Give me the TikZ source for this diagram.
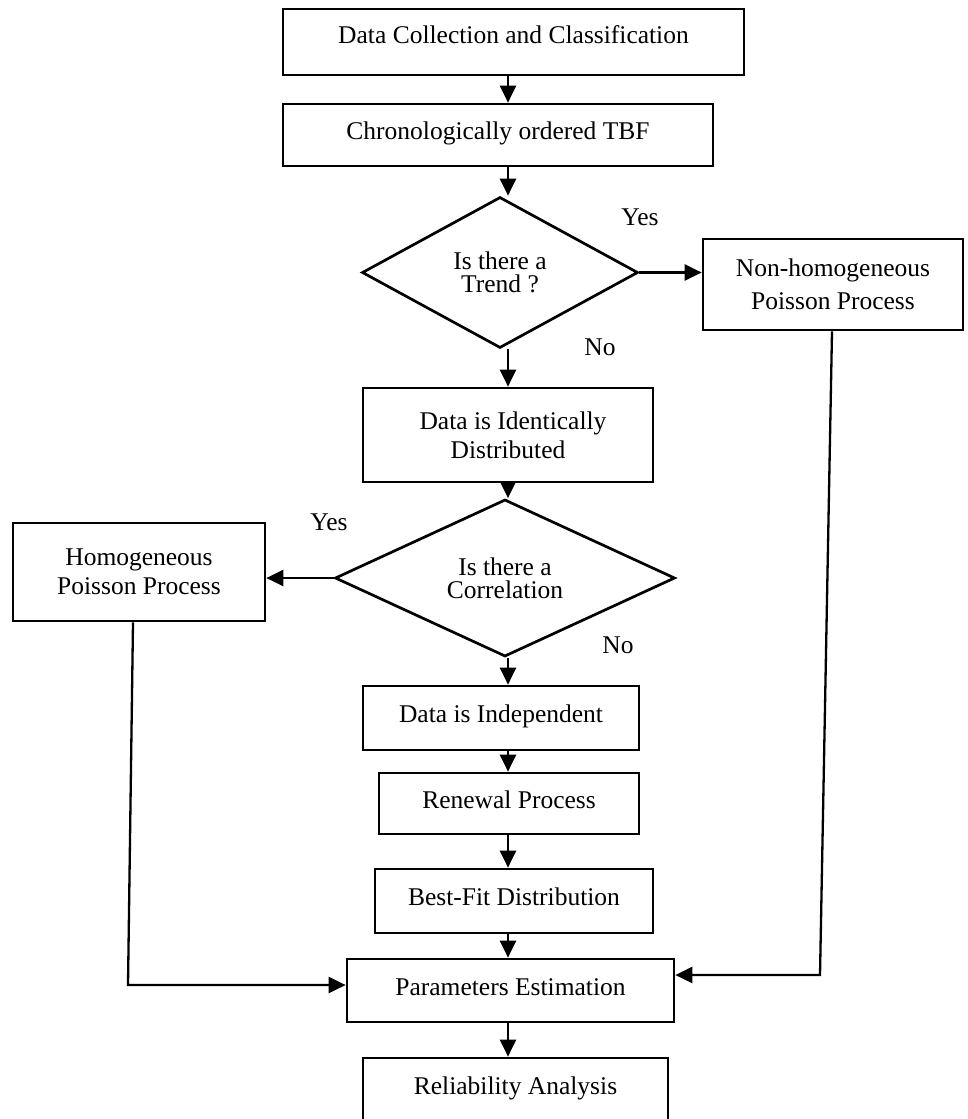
\documentclass[tikz,border=0pt]{standalone}
\usepackage{fontspec}
\setmainfont{Liberation Serif}
\usetikzlibrary{shapes.geometric,arrows.meta}
\begin{document}
\begin{tikzpicture}[x=1pt,y=-1pt,
  box/.style={draw, line width=2.7pt, inner sep=0pt, align=center,
    font=\fontsize{25.5}{29}\selectfont},
  onebox/.style={box, text height=18pt, text depth=9pt},
  dia/.style={draw, diamond, line width=2.7pt, inner sep=0pt, align=center,
    font=\fontsize{25.5}{23}\selectfont},
  arr/.style={line width=2.3pt, -{Triangle[length=17pt,width=16pt]}},
  lbl/.style={font=\fontsize{25.5}{29}\selectfont, inner sep=0pt}]
\useasboundingbox (0,0) rectangle (968,1119);
\fill[white] (0,0) rectangle (968,1119);

\coordinate (ax) at (508,0);
\coordinate (lt) at (133,0);
\coordinate (rt) at (832,0);

% boxes
\node[box, text height=18pt, text depth=15pt, minimum width=461pt, minimum height=66pt] (b1) at (513.5,42) {Data Collection and Classification};
\node[onebox, minimum width=430pt, minimum height=62pt] (b2) at (498,135) {Chronologically ordered TBF};
\node[dia, minimum width=276pt, minimum height=151pt] (d1) at (500,272.5) {Is there a\\Trend ?};
\node[box, minimum width=260pt, minimum height=91pt] (nhpp) at (833,284.5) {Non-homogeneous\\[4pt]Poisson Process};
\node[box, minimum width=290pt, minimum height=94pt] (did) at (508,435) {\hspace*{10pt}Data is Identically\\Distributed};
\node[dia, minimum width=340pt, minimum height=140pt] (d2) at (505,578) {Is there a\\Correlation};
\node[box, minimum width=252pt, minimum height=98pt] (hpp) at (139,572) {Homogeneous\\Poisson Process};
\node[onebox, minimum width=276pt, minimum height=64pt] (di) at (501,718) {Data is Independent};
\node[onebox, minimum width=260pt, minimum height=61pt] (ren) at (509,803.5) {Renewal Process};
\node[onebox, minimum width=278pt, minimum height=64pt] (bf) at (514,901) {Best-Fit Distribution};
\node[onebox, minimum width=327pt, minimum height=63pt] (par) at (510.5,990.5) {Parameters Estimation};
\node[onebox, minimum width=305pt, minimum height=63pt] (rel) at (515.5,1089.5) {Reliability Analysis};

% labels
\node[lbl] (yes1) at (640,217) {Yes};
\node[lbl] (no1) at (600,347) {No};
\node[lbl] (yes2) at (329,522) {Yes};
\node[lbl] (no2) at (618,645) {No};

% connectors
\draw[arr] (b1.south -| ax) -- (b2.north -| ax);
\draw[arr] (b2.south -| ax) -- (d1.north -| ax);
\draw[arr] (d1.east) -- (d1.east -| nhpp.west);
\draw[arr] (d1.south -| ax) -- (did.north -| ax);
\draw[arr] (did.south -| ax) -- (d2.north -| ax);
\draw[arr] (d2.west) -- (d2.west -| hpp.east);
\draw[arr] (d2.south -| ax) -- (di.north -| ax);
\draw[arr] (di.south -| ax) -- (ren.north -| ax);
\draw[arr] (ren.south -| ax) -- (bf.north -| ax);
\draw[arr] (bf.south -| ax) -- (par.north -| ax);
\draw[arr] (par.south -| ax) -- (rel.north -| ax);

\coordinate (lc) at (128,985);
\coordinate (rc) at (820,975);
\draw[arr] (hpp.south -| lt) -- (lc) -- (lc -| par.west);
\draw[arr] (nhpp.south -| rt) -- (rc) -- (rc -| par.east);
\end{tikzpicture}
\end{document}
